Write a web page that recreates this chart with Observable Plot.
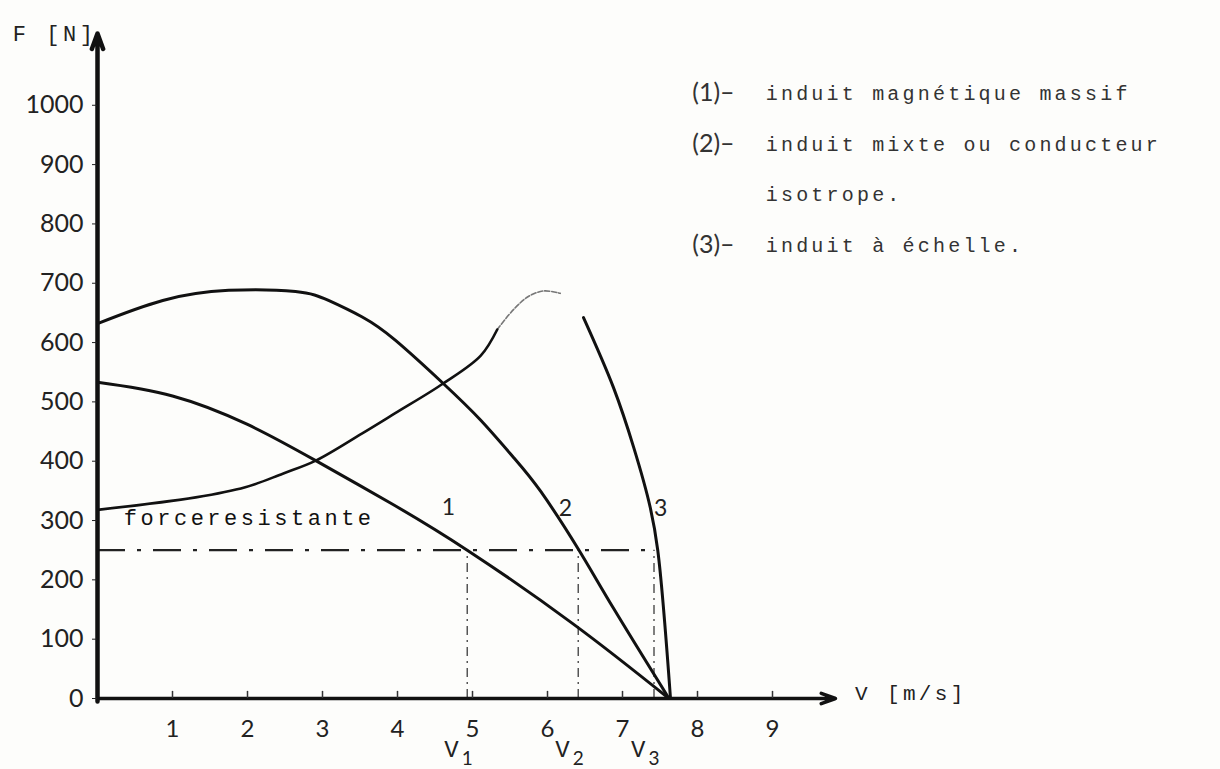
<!DOCTYPE html>
<html>
<head>
<meta charset="utf-8">
<script src="https://cdn.jsdelivr.net/npm/d3@7"></script>
<script src="https://cdn.jsdelivr.net/npm/@observablehq/plot@0.6"></script>
<style>
  body { margin: 0; background: #fdfdfb; }
</style>
</head>
<body>
<div id="chart"></div>
<script>
// Force F [N] versus speed V [m/s] for three kinds of induit (armature)

// (1) induit magnétique massif
const massifV = [0, 1.0, 2.0, 2.91, 3.9, 4.93, 6.35, 7.62];
const massifF = [533, 510, 462, 401, 330, 250, 125, 0];

// (2) induit mixte ou conducteur isotrope
const mixteV = [0, 0.87, 1.75, 2.64, 3.08, 3.53, 3.97, 4.61, 5.11, 5.55, 5.91, 6.41, 6.88, 7.62];
const mixteF = [632, 671, 688, 686, 671, 643, 604, 531, 469, 406, 349, 252, 152, 0];

// (3) induit à échelle
const echelleV = [0, 1.31, 1.97, 2.47, 2.91, 3.53, 3.97, 4.61, 5.11, 5.33, 5.55, 5.75, 5.95, 6.17, 6.48, 6.88, 7.15, 7.37, 7.47, 7.64];
const echelleF = [318, 339, 356, 379, 401, 447, 481, 531, 578, 622, 656, 678, 687, 683, 642, 524, 423, 322, 250, 0];

// resisting force and the resulting operating speeds V1, V2, V3
const forceResistante = 250;
const operatingSpeeds = [4.93, 6.41, 7.42];
const speedNames = ["1", "2", "3"];

const curveNames = ["1", "2", "3"];
const legendKeys = ["(1)–", "(2)–", "(3)–"];
const legendText = ["induit magnétique massif", "induit mixte ou conducteur\nisotrope.", "induit à échelle."];

const xTicks = [1, 2, 3, 4, 5, 6, 7, 8, 9];
const yTicks = [0, 100, 200, 300, 400, 500, 600, 700, 800, 900, 1000];
const xMax = 9.84, yMax = 1121;

const toPoints = (vs, fs) => vs.map((v, i) => ({v, F: fs[i]}));
const massif = toPoints(massifV, massifF);
const mixte = toPoints(mixteV, mixteF);
const echelle = toPoints(echelleV, echelleF);

const MONO = "Liberation Mono";
const SANS = "Lato";
const ink = "#111";

// first text line of each legend entry (entry 2 wraps onto a second line)
const legendLine = [0, 1, 3];

const plot = Plot.plot({
  width: 1220,
  height: 769,
  marginLeft: 97,
  marginRight: 385,
  marginTop: 33,
  marginBottom: 71,
  x: {domain: [0, xMax]},
  y: {domain: [0, yMax]},
  style: {background: "#fdfdfb", overflow: "visible"},
  marks: [
    // dash-dot projections down to V1, V2, V3
    Plot.ruleX(operatingSpeeds, {x: d => d, y1: 0, y2: forceResistante, stroke: "#555", strokeWidth: 1.5, strokeDasharray: "9,5,2,5"}),
    // resisting force line
    Plot.ruleY([forceResistante], {x1: 0, x2: operatingSpeeds[2], stroke: "#222", strokeWidth: 2.2, strokeDasharray: "28,12,4,12"}),
    Plot.text(["forceresistante"], {x: 0.35, y: 304, text: d => d, textAnchor: "start", fontFamily: MONO, fontSize: 22, fill: "#111"}),

    // force–speed curves
    Plot.line(massif, {x: "v", y: "F", curve: "natural", stroke: ink, strokeWidth: 3}),
    Plot.line(mixte, {x: "v", y: "F", curve: "natural", stroke: ink, strokeWidth: 3}),
    // faint pencil stroke across the peak of curve 3, solid elsewhere
    Plot.line(echelle.filter(d => d.v >= 5.33 && d.v <= 6.17), {x: "v", y: "F", curve: "catmull-rom", stroke: "#777", strokeWidth: 1.6, strokeDasharray: "5,2"}),
    Plot.line(echelle.filter(d => d.v <= 5.33), {x: "v", y: "F", curve: "catmull-rom", stroke: ink, strokeWidth: 2.6}),
    Plot.line(echelle.filter(d => d.v >= 6.48), {x: "v", y: "F", curve: "catmull-rom", stroke: ink, strokeWidth: 3}),

    // curve numbers
    Plot.text(curveNames, {x: [4.68, 6.24, 7.51], y: [322, 320, 320], text: d => d, fontFamily: SANS, fontSize: 23, fill: "#222"}),

    // axes with arrow heads
    Plot.arrow([0], {x1: 0, y1: 0, x2: xMax, y2: 0, stroke: ink, strokeWidth: 3.5, headLength: 6.5, headAngle: 40}),
    Plot.arrow([0], {x1: 0, y1: -5, x2: 0, y2: yMax, stroke: ink, strokeWidth: 4.5, headLength: 5.5, headAngle: 40}),
    Plot.ruleX(xTicks, {x: d => d, y1: 0, y2: 12, stroke: "#333", strokeWidth: 1.5}),
    Plot.axisX(xTicks, {tickSize: 0, tickPadding: 21, fontSize: 24, fontFamily: SANS, color: "#222", label: null}),
    Plot.axisY(yTicks, {tickSize: 5, tickPadding: 9, fontSize: 25, fontFamily: SANS, color: "#222", label: null, tickFormat: d => String(d)}),

    // axis titles
    Plot.text(["F [N]"], {x: -1.13, y: yMax, text: d => d, textAnchor: "start", fontFamily: MONO, fontSize: 22, fill: "#222"}),
    Plot.text(["V [m/s]"], {x: 10.1, y: 8, text: d => d, textAnchor: "start", fontFamily: MONO, fontSize: 21, fill: "#222"}),

    // V1, V2, V3 under the axis
    Plot.text(speedNames, {x: operatingSpeeds, y: -86, dx: -14, text: () => "V", fontFamily: MONO, fontSize: 24, fill: "#222"}),
    Plot.text(speedNames, {x: operatingSpeeds, y: -101, dx: 0, text: d => d, fontFamily: SANS, fontSize: 19, fill: "#222"}),

    // legend
    Plot.text(legendKeys, {x: 7.93, y: (d, i) => 1020 - legendLine[i] * 85, text: d => d, textAnchor: "start", fontFamily: SANS, fontSize: 25, fill: "#333"}),
    Plot.text(legendText, {x: 8.91, y: (d, i) => 1068 - legendLine[i] * 85, text: d => d, textAnchor: "start", lineAnchor: "top", lineHeight: 2.5, fontFamily: MONO, fontSize: 20, fill: "#333"})
  ]
});

// typewriter spacing for the monospaced lettering
d3.select(plot).selectAll(`g[font-family="${MONO}"]`).attr("letter-spacing", "0.16em");

document.getElementById("chart").append(plot);
</script>
</body>
</html>
